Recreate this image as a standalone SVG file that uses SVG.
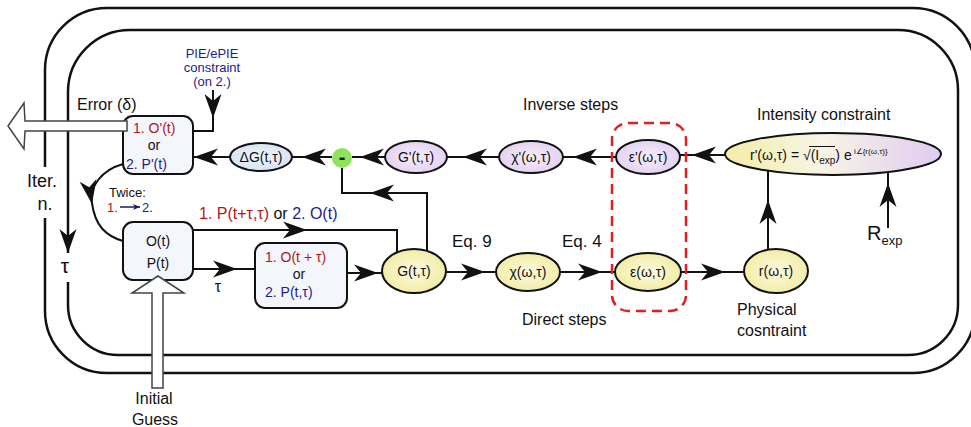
<svg xmlns="http://www.w3.org/2000/svg" width="971" height="427" viewBox="0 0 971 427">
<defs>
<style>
text{font-family:"Liberation Sans",Arial,sans-serif;fill:#111}
.ln{fill:none;stroke:#111;stroke-width:2}
.lp{fill:none;stroke:#111;stroke-width:2.5}
.ar{marker-end:url(#ah)}
.nd{stroke:#111;stroke-width:2}
.bx{fill:#f3f6fa;stroke:#111;stroke-width:2}
.red{fill:#b01818}
.blu{fill:#1c1c8c}
.c{text-anchor:middle}
.f13{font-size:13px}
.f14{font-size:14px}
.f16{font-size:16px}
.f17{font-size:17px}
.f18{font-size:18px}
.hollow{fill:#fff;stroke:#444;stroke-width:1.5}
</style>
<marker id="ah" markerUnits="userSpaceOnUse" markerWidth="30" markerHeight="20" viewBox="-25 -10 26 20" refX="0" refY="0" orient="auto">
<path d="M0,0 L-24,-8.5 L-17,0 L-24,8.5 Z" fill="#111"/>
</marker>
<marker id="ahs" markerUnits="userSpaceOnUse" markerWidth="10" markerHeight="8" viewBox="-8 -4 9 8" refX="0" refY="0" orient="auto">
<path d="M0,0 L-7,-3 L-5,0 L-7,3 Z" fill="#1c1c5c"/>
</marker>
<radialGradient id="gy" cx="50%" cy="50%" r="55%"><stop offset="0" stop-color="#fdfbe2"/><stop offset="1" stop-color="#f1eba0"/></radialGradient>
<radialGradient id="gl" cx="50%" cy="50%" r="55%"><stop offset="0" stop-color="#f7f0fc"/><stop offset="1" stop-color="#e2cef1"/></radialGradient>
<radialGradient id="gb" cx="50%" cy="50%" r="55%"><stop offset="0" stop-color="#f0f5fc"/><stop offset="1" stop-color="#d5e2f3"/></radialGradient>
<linearGradient id="gi" x1="0" y1="0" x2="1" y2="0"><stop offset="0" stop-color="#f3eda6"/><stop offset="0.45" stop-color="#f8f4e6"/><stop offset="1" stop-color="#e0cbf1"/></linearGradient>
</defs>
<rect width="971" height="427" fill="#fff"/>

<g id="loops">
<path class="lp" d="M45,167 V70 A62,62 0 0 1 107,8 H913 A62,62 0 0 1 975,70 V311 A62,62 0 0 1 913,373 H107 A62,62 0 0 1 45,311 V218"/>
<path class="lp" d="M68,282 V305 A50,50 0 0 0 118,355 H908 A50,50 0 0 0 958,305 V90 A60,60 0 0 0 898,30 H130 A62,62 0 0 0 68,92 V253" marker-end="url(#ah)"/>
</g>

<g id="connectors">
<path class="ln ar" d="M213,90 V118"/><path class="ln" d="M213,117 V131 H193"/>
<path class="ln ar" d="M230,157 H194"/>
<path class="ln ar" d="M332,157 H302"/><path class="ln" d="M303,157 H291"/>
<path class="ln ar" d="M385,157 H360"/><path class="ln" d="M361,157 H352"/>
<path class="ln ar" d="M499,157 H463"/><path class="ln" d="M464,157 H447"/>
<path class="ln ar" d="M616,157 H573"/><path class="ln" d="M574,157 H563"/>
<path class="ln ar" d="M725,155 H692"/><path class="ln" d="M693,155 H680"/>
<path class="ln ar" d="M768,250 V200"/><path class="ln" d="M768,201 V171"/>
<path class="ln ar" d="M888,228 V183"/><path class="ln" d="M888,184 V172"/>
<path class="ln ar" d="M681,272 H725"/><path class="ln" d="M724,272 H744"/>
<path class="ln ar" d="M560,272 H602"/><path class="ln" d="M601,272 H615"/>
<path class="ln ar" d="M446,272 H485"/><path class="ln" d="M484,272 H495"/>
<path class="ln ar" d="M347,273 H378"/><path class="ln" d="M377,273 H383"/>
<path class="ln ar" d="M193,269 H237"/><path class="ln" d="M236,269 H255"/>
<path class="ln ar" d="M193,230 H307"/><path class="ln" d="M306,230 H397 V252"/>
<path class="ln ar" d="M427,250 V193 H370"/><path class="ln" d="M371,193 H342 V168"/>
<path class="ln ar" d="M123,164 C102,170 89,186 92,204"/><path class="ln" d="M92,203 C95,226 106,236 123,241"/>
<path d="M120,207 H140" stroke="#1c1c5c" stroke-width="1.5" fill="none" marker-end="url(#ahs)"/>
</g>

<g id="box-update">
<rect class="bx" x="123" y="116" width="70" height="58" rx="10"/>
<text class="f14 red" x="133" y="133">1. O'(t)</text>
<text class="f14 c" x="154" y="150">or</text>
<text class="f14 blu" x="126" y="169">2. P'(t)</text>
</g>
<g id="node-dG">
<ellipse class="nd" cx="261" cy="157" rx="31" ry="14" fill="url(#gb)"/>
<text class="f14 c" x="261" y="162">ΔG(t,τ)</text>
</g>
<g id="node-minus">
<circle cx="342" cy="158" r="10" fill="#8fe35c"/>
<text x="342" y="164" text-anchor="middle" font-size="20" font-weight="bold">-</text>
</g>
<g id="node-Gp">
<ellipse class="nd" cx="416" cy="157" rx="31" ry="16" fill="url(#gl)"/>
<text class="f14 c" x="416" y="162">G'(t,τ)</text>
</g>
<g id="node-chip">
<ellipse class="nd" cx="531" cy="157" rx="32" ry="16" fill="url(#gl)"/>
<text class="f14 c" x="531" y="162">χ'(ω,τ)</text>
</g>
<g id="node-epsp">
<ellipse class="nd" cx="648" cy="157" rx="32" ry="17" fill="url(#gl)"/>
<text class="f14 c" x="648" y="162">ε'(ω,τ)</text>
</g>
<g id="node-intensity">
<ellipse class="nd" cx="833" cy="154" rx="108" ry="21" fill="url(#gi)"/>
<text class="f14" x="750" y="160">r'(ω,τ) = √(I<tspan font-size="10" dy="4">exp</tspan><tspan dy="-4">) e</tspan><tspan font-size="8" dy="-6"> i∠{r(ω,τ)}</tspan></text>
<path d="M809,146.5 H835" stroke="#111" stroke-width="1" fill="none"/>
</g>
<g id="box-OP">
<rect class="bx" x="123" y="222" width="70" height="58" rx="10"/>
<text class="f14 c" x="158" y="246">O(t)</text>
<text class="f14 c" x="158" y="268">P(t)</text>
</g>
<g id="box-shift">
<rect class="bx" x="255" y="243" width="92" height="65" rx="10"/>
<text class="f14 red" x="265" y="262">1. O(t + τ)</text>
<text class="f14 c" x="299" y="279">or</text>
<text class="f14 blu" x="265" y="297">2. P(t,τ)</text>
</g>
<g id="node-G">
<ellipse class="nd" cx="414" cy="271" rx="32" ry="22" fill="url(#gy)"/>
<text class="f14 c" x="414" y="276">G(t,τ)</text>
</g>
<g id="node-chi">
<ellipse class="nd" cx="528" cy="272" rx="32" ry="19" fill="url(#gy)"/>
<text class="f14 c" x="528" y="277">χ(ω,τ)</text>
</g>
<g id="node-eps">
<ellipse class="nd" cx="648" cy="272" rx="33" ry="19" fill="url(#gy)"/>
<text class="f14 c" x="648" y="277">ε(ω,τ)</text>
</g>
<g id="node-r">
<ellipse class="nd" cx="776" cy="271" rx="32" ry="22" fill="url(#gy)"/>
<text class="f14 c" x="776" y="276">r(ω,τ)</text>
</g>
<g id="fourier-pair">
<rect x="612" y="123" width="74" height="188" rx="16" fill="none" stroke="#e02020" stroke-width="2.5" stroke-dasharray="10,6"/>
</g>

<g id="big-arrows">
<path class="hollow" d="M127,121 H25 L24,103 L8,126 L24,149 L25,131 H127 Z"/>
<path class="hollow" d="M152,388 V293 H132 L158,276 L184,293 H163 V388 Z"/>
</g>

<g id="labels">
<text class="f13 c blu" x="212" y="58">PIE/ePIE</text>
<text class="f13 c blu" x="212" y="72">constraint</text>
<text class="f13 c blu" x="212" y="86">(on 2.)</text>
<text class="f16" x="77" y="110">Error (δ)</text>
<text class="f18 c" x="42" y="187">Iter.</text>
<text class="f18 c" x="45" y="210">n.</text>
<text class="c" x="65" y="273" font-size="21">τ</text>
<text class="f13" x="109" y="197">Twice:</text>
<text class="f13 red" x="107" y="212">1.</text>
<text class="f13 blu" x="142" y="212">2.</text>
<text class="f16" x="199" y="219"><tspan class="red">1. P(t+τ,τ)</tspan> or  <tspan class="blu">2. O(t)</tspan></text>
<text class="f16 c" x="218" y="292">τ</text>
<text class="f16 c" x="154" y="404">Initial</text>
<text class="f16 c" x="155" y="425">Guess</text>
<text class="f17" x="452" y="247">Eq. 9</text>
<text class="f17" x="562" y="247">Eq. 4</text>
<text class="f16" x="523" y="110">Inverse steps</text>
<text class="f16" x="522" y="325">Direct steps</text>
<text class="f16" x="757" y="120">Intensity constraint</text>
<text class="f16" x="737" y="315">Physical</text>
<text class="f16" x="737" y="336">cosntraint</text>
<text x="867" y="240" font-size="20">R<tspan font-size="13" dy="5">exp</tspan></text>
</g>
</svg>
